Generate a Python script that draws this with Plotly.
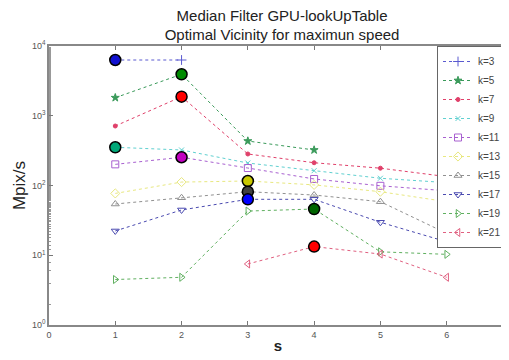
import plotly.graph_objects as go

s_values = [1, 2, 3, 4, 5, 6]
k_labels = ["k=3", "k=5", "k=7", "k=9", "k=11", "k=13", "k=15", "k=17", "k=19", "k=21"]

k3 = [6300, 6300, None, None, None, None]
k5 = [1815, 3930, 434, 323, None, None]
k7 = [713, 1876, 283, 212, 177, 134]
k9 = [353, 323, 210, 163, 127, 110]
k11 = [201, 254, 178, 124, 99, 84]
k13 = [77, 112, 116, 102, 81.5, 58.6]
k15 = [54.3, 66.8, 81.5, 73, 58.6, 20.6]
k17 = [22.3, 44.6, 63.4, 63.4, 29.7, 15.6]
k19 = [4.49, 4.83, 43, 46, 11.2, 10.3]
k21 = [None, None, 7.5, 13.3, 10.4, 4.83]

series = [k3, k5, k7, k9, k11, k13, k15, k17, k19, k21]
optimal_s = [1, 2, 2, 1, 2, 3, 3, 3, 4, 4]

line_colors = ["#5a5ad0", "#3a9a5a", "#e0406a", "#60d0d0", "#a860d0",
               "#e8e880", "#909090", "#4a4ab0", "#60b060", "#e06080"]
symbols = ["cross-thin", "star", "circle", "x-thin", "square-open", "diamond-open",
           "triangle-up-open", "triangle-down-open", "triangle-right-open", "triangle-left-open"]
sizes = [7, 6, 4, 5, 7, 7, 7, 7, 7, 7]
opt_colors = ["#1010d0", "#008a00", "#ff0000", "#00a878", "#c000c0",
              "#c8c800", "#404040", "#0000ff", "#006400", "#ff0000"]

fig = go.Figure()
for lab, vals, col, sym, sz in zip(k_labels, series, line_colors, symbols, sizes):
    fig.add_trace(go.Scatter(
        x=s_values, y=vals, name=lab, mode="lines+markers",
        line=dict(color=col, width=1, dash="dot"),
        marker=dict(symbol=sym, size=sz, color=col, line=dict(color=col, width=1)),
        connectgaps=False,
    ))

for vals, so, oc in zip(series, optimal_s, opt_colors):
    fig.add_trace(go.Scatter(
        x=[so], y=[vals[s_values.index(so)]], mode="markers", showlegend=False,
        marker=dict(symbol="circle", size=11, color=oc, line=dict(color="#000000", width=1.5)),
    ))

axis_font = dict(family="Arial", size=9, color="#555555")
# the page body adds an 8px margin, so the figure is 8px smaller on each axis
fig.update_layout(
    width=501, height=352,
    margin=dict(l=41, r=0, t=38, b=35),
    paper_bgcolor="white", plot_bgcolor="white",
    title=dict(text="Median Filter GPU-lookUpTable<br>Optimal Vicinity for maximun speed",
               x=0.547, xref="container", xanchor="center",
               y=0.964, yref="container", yanchor="top",
               font=dict(family="Arial", size=15, color="#222222")),
    xaxis=dict(range=[0, 6.91], tickvals=[0, 1, 2, 3, 4, 5, 6], ticks="inside", ticklen=4,
               tickcolor="#777777", showline=True, linecolor="#888888", linewidth=1.5,
               mirror="ticks", showgrid=False, zeroline=False, tickfont=axis_font,
               title=dict(text="<b>s</b>", font=dict(family="Arial", size=15, color="#222222"), standoff=2)),
    yaxis=dict(type="log", range=[0, 4], tickvals=[1, 10, 100, 1000, 10000],
               ticktext=["10<sup>0</sup>", "10<sup>1</sup>", "10<sup>2</sup>", "10<sup>3</sup>", "10<sup>4</sup>"],
               ticks="inside", ticklen=4, tickcolor="#777777", showline=True, linecolor="#888888",
               linewidth=1.5, mirror="ticks", showgrid=False, zeroline=False, tickfont=axis_font,
               minor=dict(ticks="inside", ticklen=2, tickcolor="#999999", showgrid=False),
               title=dict(text="Mpix/s", font=dict(family="Arial", size=17, color="#222222"), standoff=2)),
    legend=dict(x=1.0, y=1, xanchor="right", yanchor="top", bgcolor="white",
                bordercolor="#666666", borderwidth=1,
                font=dict(family="Arial", size=10, color="#444444"),
                tracegroupgap=0, itemwidth=30),
)

fig.write_html("out.html")
